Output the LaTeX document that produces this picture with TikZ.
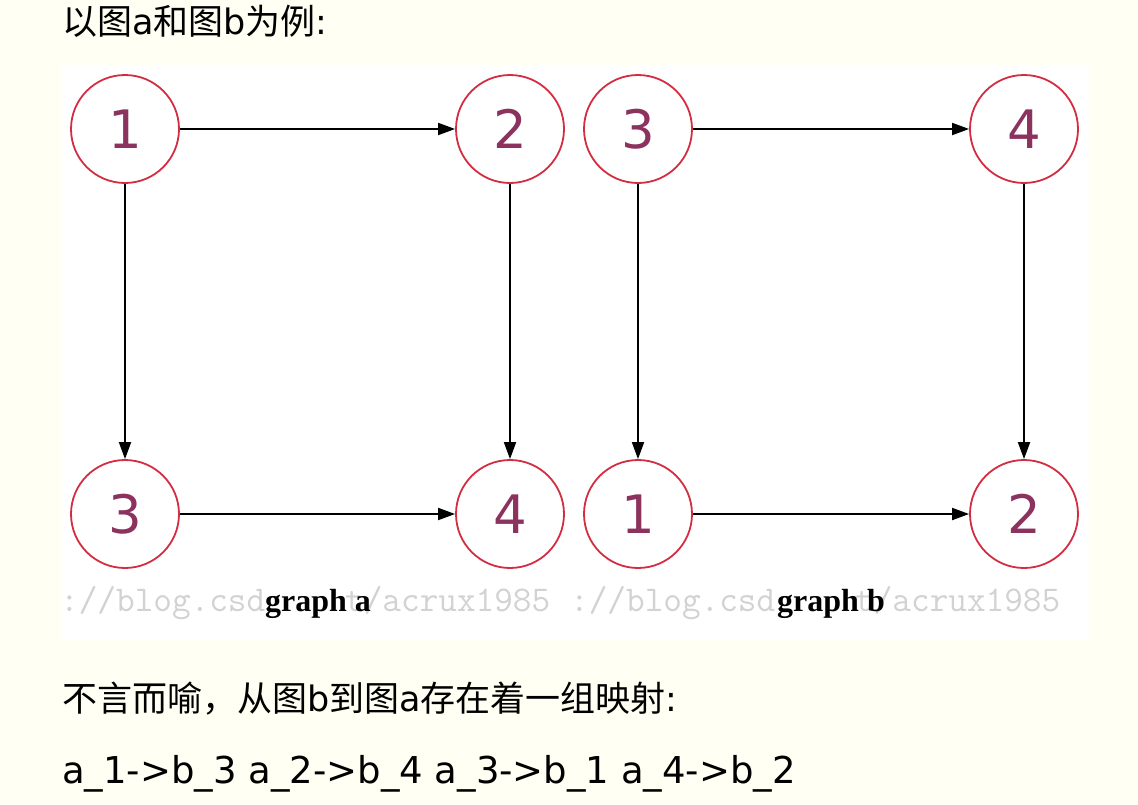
\documentclass[tikz,border=0pt]{standalone}
\usepackage{fontspec}
\setmainfont{DejaVu Sans}
\newfontfamily\cjk{Noto Sans CJK SC}
\newfontfamily\labfont{Liberation Serif}
\usetikzlibrary{arrows.meta}
\definecolor{bgc}{RGB}{255,255,243}
\definecolor{ring}{RGB}{210,45,65}
\definecolor{digit}{RGB}{140,50,95}
\definecolor{wm}{RGB}{210,210,210}
\begin{document}
\begin{tikzpicture}[x=1pt,y=-1pt,
  vtx/.style={circle,draw=ring,line width=1.8pt,minimum size=108pt,inner sep=0pt,fill=white,text=digit,font=\fontsize{53}{53}\selectfont},
  edge/.style={line width=1.8pt,-{Triangle[length=17pt,width=12pt]}},
  wmtext/.style={anchor=base west,inner sep=0pt,text=wm,font=\ttfamily\fontsize{36.2}{36}\selectfont},
  glabel/.style={anchor=base,inner sep=0pt,font=\labfont\bfseries\fontsize{32}{32}\selectfont},
  body/.style={anchor=base west,inner sep=0pt}]
\useasboundingbox (0,0) rectangle (1138,804);
\fill[bgc] (0,0) rectangle (1138,804);
\fill[white] (62,65) rectangle (1089,639);
% header text
\node[body,font=\fontsize{35}{35}\selectfont] (t1) at (62,34) {{\cjk 以图}a{\cjk 和图}b{\cjk 为例}:};
% watermarks (partly hidden behind the labels)
\node[wmtext] (wa1) at (60,611) {://blog.csd};
\node[wmtext] (wa2) at (345,611) {t/acrux1985};
\node[wmtext] (wb1) at (570,611) {://blog.csd};
\node[wmtext] (wb2) at (855,611) {t/acrux1985};
% vertices
\node[vtx] (a1) at (125,129) {1};
\node[vtx] (a2) at (510,129) {2};
\node[vtx] (a3) at (125,514) {3};
\node[vtx] (a4) at (510,514) {4};
\node[vtx] (b3) at (638,129) {3};
\node[vtx] (b4) at (1024,129) {4};
\node[vtx] (b1) at (638,514) {1};
\node[vtx] (b2) at (1024,514) {2};
% edges
\draw[edge] (a1) -- (a2);
\draw[edge] (a1) -- (a3);
\draw[edge] (a2) -- (a4);
\draw[edge] (a3) -- (a4);
\draw[edge] (b3) -- (b4);
\draw[edge] (b3) -- (b1);
\draw[edge] (b4) -- (b2);
\draw[edge] (b1) -- (b2);
% graph labels
\node[glabel] (la) at (318,611) {graph a};
\node[glabel] (lb) at (831,611) {graph b};
% body text
\node[body,font=\fontsize{35}{35}\selectfont] (t2) at (62,711) {{\cjk 不言而喻，从图}b{\cjk 到图}a{\cjk 存在着一组映射}:};
\node[body,font=\fontsize{37}{37}\selectfont] (t3) at (62,783) {a\_1->b\_3 a\_2->b\_4 a\_3->b\_1 a\_4->b\_2};
\end{tikzpicture}
\end{document}
